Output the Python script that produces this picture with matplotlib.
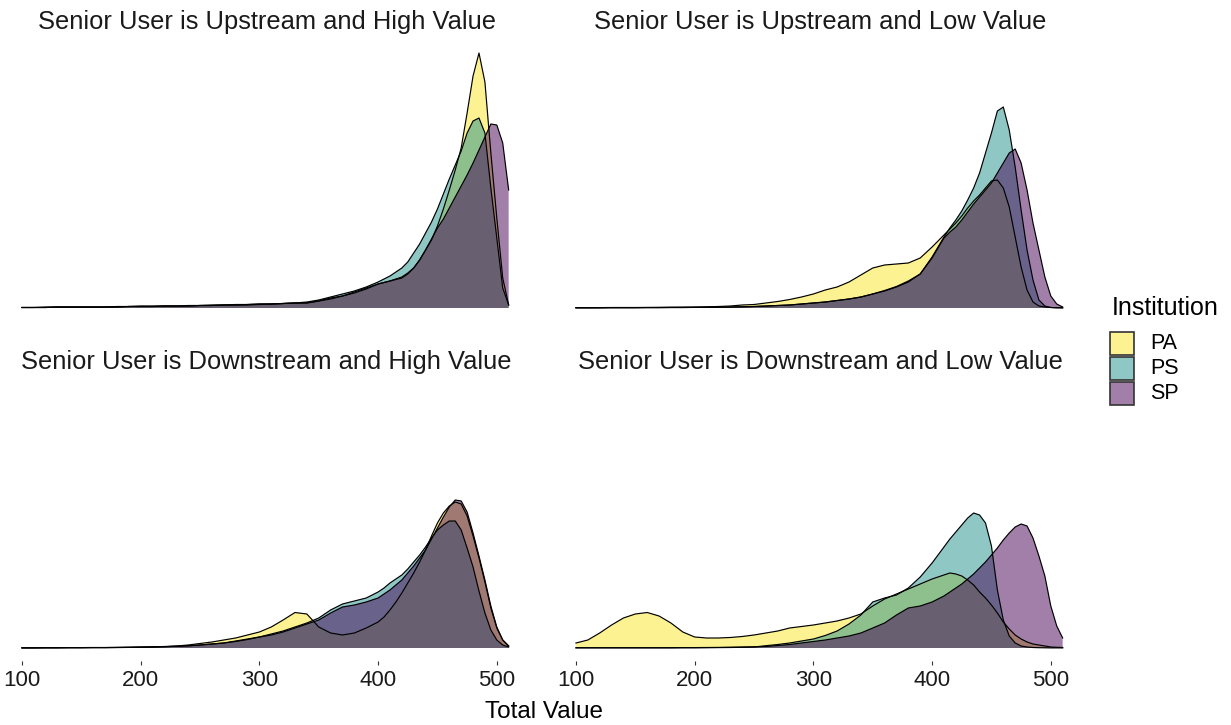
import matplotlib.pyplot as plt
from matplotlib.patches import Rectangle

plt.rcParams['font.family'] = ['Liberation Sans', 'DejaVu Sans']

# evaluation grid of the density curves (Total Value)
x_grid = list(range(100, 400, 10)) + list(range(400, 511, 5))

institutions = ['PA', 'PS', 'SP']
colors = ['#FDE725', '#21908C', '#440154']

titles = ['Senior User is Upstream and High Value',
          'Senior User is Upstream and Low Value',
          'Senior User is Downstream and High Value',
          'Senior User is Downstream and Low Value']

# density (x 1e-4)
ul_pa = [0.5, 0.5, 1, 1, 1, 1, 1, 1, 1.5, 1.5, 2, 2, 2, 2, 2.5, 2.5, 3, 3, 3.5, 3.5,
         4, 4, 4.5, 5, 5, 7, 10, 12, 16, 20,
         24, 25.5, 27, 29, 31, 35, 40, 48, 58, 68, 82, 99, 118, 138, 160, 195, 232, 255,
         226, 155, 90, 30, 3]
ul_ps = [0.5, 0.5, 0.5, 1, 1, 1, 1, 1, 1, 1.5, 1.5, 1.5, 2, 2, 2, 2.5, 2.5, 3, 3, 3,
         3.5, 4, 4.5, 5, 6, 8, 11, 14, 17, 21,
         26, 29, 32, 36, 40, 46, 55, 64, 75, 86, 99, 114, 129, 143, 157, 175, 187, 190,
         175, 120, 70, 20, 3]
ul_sp = [0.5, 0.5, 0.5, 1, 1, 1, 1, 1, 1, 1.5, 1.5, 1.5, 2, 2, 2, 2.5, 2.5, 3, 3, 3.5,
         4, 4, 4.5, 5, 5, 7, 9, 12, 15, 19,
         24, 25.5, 27, 28.5, 30, 34, 40, 48, 58, 69, 80, 89, 100, 111, 122, 133, 145, 158,
         171, 184, 183, 165, 118]

ur_pa = [0.3, 0.3, 0.4, 0.5, 0.5, 0.5, 0.6, 0.7, 0.8, 0.9, 1.0, 1.2, 1.5, 2, 3, 3.5, 5, 6.5, 8.5, 11,
         14, 18, 21, 26, 33, 40, 43, 44, 45, 50,
         61, 67, 73, 79, 85, 92, 100, 107, 113, 120, 127, 128, 120, 101, 71, 41, 18, 6,
         2, 1, 0.5, 0.3, 0.2]
ur_ps = [0.2, 0.2, 0.2, 0.3, 0.3, 0.3, 0.4, 0.4, 0.5, 0.5, 0.6, 0.7, 0.8, 1, 1.2, 1.5, 2, 2.5, 3, 4,
         5, 6, 7.5, 9, 11, 14, 17, 21, 26, 34,
         51, 61, 71, 80, 88, 97, 108, 120, 135, 155, 175, 197, 201, 178, 141, 98, 58, 28,
         8, 2, 0.5, 0.2, 0.1]
ur_sp = [0.2, 0.2, 0.2, 0.3, 0.3, 0.3, 0.4, 0.4, 0.5, 0.5, 0.6, 0.7, 0.8, 1, 1.2, 1.5, 2, 2.5, 3, 4,
         5, 6, 7.5, 9, 11, 14, 17.5, 21.5, 27, 34,
         50, 60, 70, 76, 81, 88, 96, 104, 111, 118, 125, 135, 145, 155, 159, 145, 118, 85,
         58, 31, 12, 4, 1]

ll_pa = [0.2, 0.2, 0.3, 0.3, 0.4, 0.4, 0.5, 0.5, 0.6, 0.8, 1.0, 1.2, 1.5, 2, 3, 4.5, 6, 8, 10, 13,
         16, 21, 28, 35.5, 34, 21, 15, 13, 15, 20,
         26, 31, 38, 46, 55, 65, 75, 86, 98, 112, 125, 135, 142, 146, 144, 132, 112, 90,
         66, 40, 20, 8, 2]
ll_ps = [0.1, 0.1, 0.2, 0.2, 0.3, 0.3, 0.4, 0.4, 0.5, 0.6, 0.8, 1, 1.3, 1.7, 2.2, 3, 4, 5, 7, 9,
         11, 14, 17, 21, 25, 30, 38, 44, 47, 50,
         56, 60, 65, 69, 73, 79, 86, 93, 101, 110, 118, 123, 127, 127, 118, 100, 81, 57,
         35, 18, 8, 3, 1]
ll_sp = [0.1, 0.1, 0.2, 0.2, 0.3, 0.3, 0.4, 0.4, 0.5, 0.6, 0.8, 1, 1.3, 1.7, 2.2, 3, 4, 5, 6.5, 8.5,
         11, 13, 16, 20, 24, 28, 35, 41, 43, 46,
         50, 54, 58, 63, 68, 75, 82, 90, 98, 109, 120, 131, 141, 148, 147, 136, 115, 92,
         68, 42, 21, 8, 2]

lr_pa = [5, 8, 15, 23, 30, 34, 35.5, 32, 25, 16, 11, 10, 10, 10.5, 11.5, 13, 15, 17, 20, 21.5,
         23, 25, 27, 30, 34, 42, 49, 54, 59, 64,
         69, 71, 73, 75, 74, 72, 68, 63, 56, 50, 43, 35, 26, 19, 13, 9, 6, 4,
         3, 2, 1, 0.7, 0.5]
lr_ps = [0.1, 0.1, 0.1, 0.1, 0.1, 0.1, 0.1, 0.1, 0.1, 0.2, 0.2, 0.3, 0.4, 0.5, 0.7, 1, 2.3, 3.5, 5, 7,
         9, 12.5, 17, 24, 33, 46, 50, 53, 60, 71,
         85, 93, 101, 109, 116, 123, 130, 135, 133, 125, 102, 58, 28, 12, 5, 2, 1, 0.5,
         0.3, 0.2, 0.1, 0.1, 0.1]
lr_sp = [0.3, 0.3, 0.3, 0.3, 0.3, 0.3, 0.3, 0.3, 0.3, 0.4, 0.4, 0.5, 0.6, 0.8, 1, 1.2, 1.5, 2.5, 3.5, 5,
         6.5, 8, 10, 12, 15, 20, 25, 33, 40, 42,
         46, 49, 52, 56, 60, 64, 69, 74, 80, 86, 93, 100, 108, 115, 121, 124, 122, 110,
         92, 72, 42, 22, 10]

panels = [[ul_pa, ul_ps, ul_sp], [ur_pa, ur_ps, ur_sp],
          [ll_pa, ll_ps, ll_sp], [lr_pa, lr_ps, lr_sp]]

W, H = 1231, 725
fig = plt.figure(figsize=(W / 100, H / 100), dpi=100)

# panel boxes in pixels: left, top, right, bottom
boxes = [(0, 40.25, 533, 320.75), (554, 40.25, 1087, 320.75),
         (0, 380.25, 533, 660.75), (554, 380.25, 1087, 660.75)]

ymax = max(max(s) for p in panels for s in p)

for i, (box, series) in enumerate(zip(boxes, panels)):
    l, t, r, b = box
    ax = fig.add_axes([l / W, 1 - b / H, (r - l) / W, (b - t) / H])
    for y, c in zip(series, colors):
        ax.fill_between(x_grid, 0, y, facecolor=c, alpha=0.5, lw=0)
        ax.plot(x_grid, y, color='black', lw=0.85, solid_joinstyle='round')
    ax.set_xlim(81.5, 530.5)
    ax.set_ylim(-0.05 * ymax, 1.05 * ymax)
    for s in ax.spines.values():
        s.set_visible(False)
    ax.set_yticks([])
    if i >= 2:
        ax.set_xticks([100, 200, 300, 400, 500])
        ax.tick_params(axis='x', length=3, width=0.8, color='#333333',
                       labelsize=16, pad=3.5, labelcolor='#1a1a1a')
    else:
        ax.set_xticks([])
    ax.text(0.5, 1.065, titles[i], transform=ax.transAxes, ha='center', va='center',
            fontsize=18.4, color='#1a1a1a')

fig.text(544 / W, 1 - 712 / H, 'Total Value', ha='center', va='center', fontsize=17.5)

# legend
fig.text(1112 / W, 1 - 308 / H, 'Institution', ha='left', va='center', fontsize=18)
for k, (name, c) in enumerate(zip(institutions, colors)):
    top = 332 + 25 * k
    fig.add_artist(Rectangle((1110 / W, 1 - (top + 23) / H), 24 / W, 23 / H,
                             transform=fig.transFigure, facecolor=c, alpha=0.5, lw=0))
    fig.add_artist(Rectangle((1110 / W, 1 - (top + 23) / H), 24 / W, 23 / H,
                             transform=fig.transFigure, facecolor='none',
                             edgecolor='#333333', lw=1.2))
    fig.text(1150 / W, 1 - (top + 11.5) / H, name, ha='left', va='center', fontsize=15.5)

fig.savefig('out.png', dpi=100, facecolor='white')
